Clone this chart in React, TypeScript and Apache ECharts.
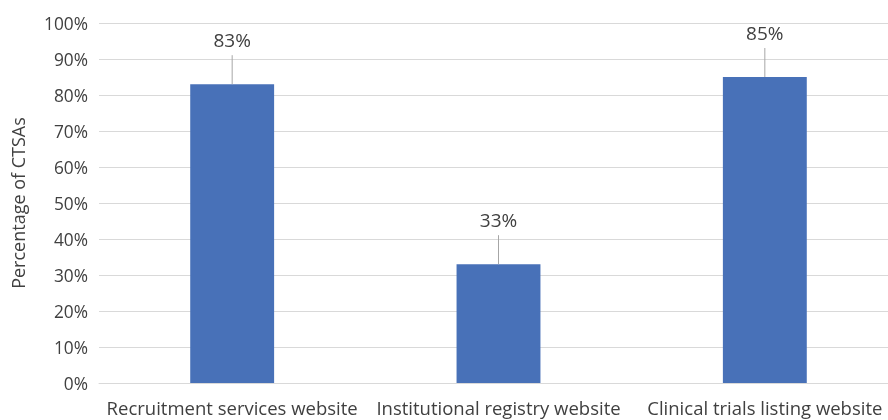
import React, { useEffect, useRef } from "react";
import * as echarts from "echarts";

const categories = [
  "Recruitment services website",
  "Institutional registry website",
  "Clinical trials listing website",
];
const values = [83, 33, 85];
const yTicks = { min: 0, max: 100, interval: 10 };

export default function App() {
  const ref = useRef<HTMLDivElement>(null);
  useEffect(() => {
    const chart = echarts.init(ref.current!, null, { renderer: "svg" });
    const font = "'Open Sans', 'Noto Sans', sans-serif";
    chart.setOption({
      animation: false,
      textStyle: { fontFamily: font },
      grid: { left: 99, top: 23, bottom: 37, right: -10, outerBoundsMode: "none", containLabel: false },
      xAxis: {
        type: "category",
        data: categories,
        axisLine: { show: true, lineStyle: { color: "#d9d9d9" } },
        axisTick: { show: false },
        axisLabel: { color: "#404040", fontSize: 18.5, margin: 15, fontFamily: font, interval: 0 },
      },
      yAxis: {
        type: "value",
        min: yTicks.min,
        max: yTicks.max,
        interval: yTicks.interval,
        name: "Percentage of CTSAs",
        nameLocation: "middle",
        nameGap: 72,
        nameTextStyle: { color: "#404040", fontSize: 18, fontFamily: font },
        axisLine: { show: false },
        axisTick: { show: false },
        splitLine: { lineStyle: { color: "#d9d9d9", width: 1 } },
        axisLabel: {
          color: "#404040",
          fontSize: 17.3,
          margin: 11,
          fontFamily: font,
          formatter: (v: number) => v + "%",
        },
      },
      series: [
        {
          type: "bar",
          data: values,
          barWidth: "31.5%",
          itemStyle: { color: "#4871b8" },
          label: {
            show: true,
            position: "top",
            distance: 35,
            color: "#404040",
            fontSize: 19,
            fontFamily: font,
            formatter: (p: any) => p.value + "%",
          },
          z: 2,
        },
        {
          type: "custom",
          data: values.map((v, i) => [i, v]),
          renderItem: (params: any, api: any) => {
            const p = api.coord([api.value(0), api.value(1)]);
            return {
              type: "line",
              shape: { x1: p[0], y1: p[1], x2: p[0], y2: p[1] - 29 },
              style: { stroke: "#a6a6a6", lineWidth: 1 },
            };
          },
          z: 3,
        },
      ],
    });
    return () => chart.dispose();
  }, []);
  return (
    <div
      ref={ref}
      style={{ width: 888, height: 420, position: "fixed", left: 0, top: 0 }}
    />
  );
}
